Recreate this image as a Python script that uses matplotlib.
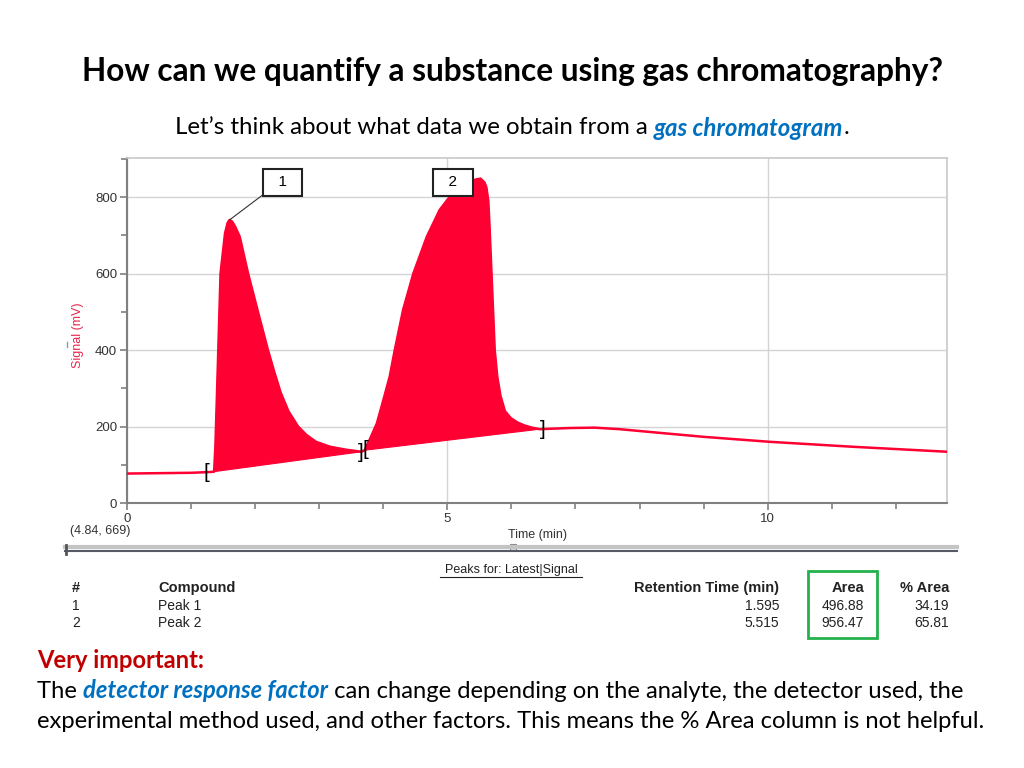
import matplotlib
matplotlib.use("Agg")
import matplotlib.pyplot as plt
from matplotlib.lines import Line2D
from matplotlib.patches import Rectangle
from matplotlib.ticker import MultipleLocator

# chromatogram trace (min, mV)
time_min = [0, 0.5, 1.0, 1.30, 1.36, 1.38, 1.40, 1.425, 1.46, 1.53, 1.57, 1.60, 1.64, 1.69,
            1.76, 1.89, 2.05, 2.20, 2.30, 2.40, 2.52, 2.67, 2.80, 2.95, 3.17, 3.43, 3.66,
            3.71, 3.80, 3.90, 4.00, 4.10, 4.18, 4.31, 4.47, 4.68, 4.88, 5.04, 5.20,
            5.35, 5.45, 5.52, 5.58, 5.61, 5.64, 5.66, 5.69, 5.74, 5.78, 5.83, 5.90,
            5.99, 6.10, 6.20, 6.32, 6.44, 6.91, 7.30, 7.69, 8.21, 9.0, 10.03, 11.33, 12.8]
signal_mv = [77, 78, 79, 81, 82, 150, 260, 400, 600, 705, 732, 740, 736, 722,
             696, 600, 496, 400, 342, 288, 240, 200, 178, 160, 147, 139, 134,
             138, 170, 208, 268, 330, 400, 505, 600, 696, 766, 801, 825,
             840, 846, 848, 838, 825, 790, 720, 600, 400, 330, 280, 240,
             222, 210, 203, 197, 193, 196, 197, 193, 185, 173, 160, 147, 134]

peak_start = [1.36, 3.71]
peak_end = [3.66, 6.44]
peak_apex = [(1.60, 740), (5.52, 848)]
label_pos = [(2.43, 838), (5.09, 838)]
peak_names = ["1", "2"]

bracket_open_t = [1.24, 3.72]
bracket_open_y = [81, 139]
bracket_close_t = [3.65, 6.49]
bracket_close_y = [133, 193]

table_header = ["#", "Compound", "Retention Time (min)", "Area", "% Area"]
table_rows = [["1", "Peak 1", "1.595", "496.88", "34.19"],
              ["2", "Peak 2", "5.515", "956.47", "65.81"]]

red = "#ff0033"
blue = "#0070c0"
W, H = 1024, 768


def fx(px):
    return px / W


def fy(py):
    return 1 - py / H


fig = plt.figure(figsize=(10.24, 7.68), dpi=100)
ax = fig.add_axes([fx(127), fy(503), fx(947) - fx(127), fy(158) - fy(503)])

ax.plot(time_min, signal_mv, color=red, lw=1.8, zorder=3)
for s, e in zip(peak_start, peak_end):
    seg_t = [t for t in time_min if s <= t <= e]
    seg_s = [v for t, v in zip(time_min, signal_mv) if s <= t <= e]
    ax.fill(seg_t, seg_s, color=red, lw=0.8, ec=red, zorder=3)

for t, y in zip(bracket_open_t, bracket_open_y):
    ax.text(t, y, "[", ha="center", va="center", fontsize=15, family="Liberation Sans", zorder=4)
for t, y in zip(bracket_close_t, bracket_close_y):
    ax.text(t, y, "]", ha="center", va="center", fontsize=15, family="Liberation Sans", zorder=4)

# peak labels
ax.annotate("  " + peak_names[0] + "  ", xy=peak_apex[0], xytext=label_pos[0],
            ha="center", va="center", fontsize=11, family="Liberation Sans",
            bbox=dict(boxstyle="square,pad=0.45", fc="white", ec="#222222", lw=1.5),
            arrowprops=dict(arrowstyle="-", color="#333333", lw=0.8, relpos=(0, 0),
                            shrinkA=0, shrinkB=0), zorder=5)
ax.text(label_pos[1][0], label_pos[1][1], "  " + peak_names[1] + "  ", ha="center",
        va="center", fontsize=11, family="Liberation Sans", zorder=5,
        bbox=dict(boxstyle="square,pad=0.45", fc="white", ec="#222222", lw=1.5))

ax.set_xlim(0, 12.8)
ax.set_ylim(0, 902)
ax.xaxis.set_major_locator(MultipleLocator(5))
ax.xaxis.set_minor_locator(MultipleLocator(1))
ax.yaxis.set_major_locator(MultipleLocator(200))
ax.yaxis.set_minor_locator(MultipleLocator(100))
ax.grid(True, which="major", color="#d4d4d4", lw=1)
ax.set_axisbelow(True)
ax.tick_params(which="both", direction="out", color="#808080", labelsize=9.5,
               labelcolor="#333333", width=1.2, pad=2)
ax.tick_params(which="major", length=5)
ax.tick_params(which="minor", length=4)
for lab in ax.get_xticklabels() + ax.get_yticklabels():
    lab.set_family("Liberation Sans")
for side in ["left", "bottom"]:
    ax.spines[side].set_color("#808080")
    ax.spines[side].set_linewidth(1.5)
for side in ["top", "right"]:
    ax.spines[side].set_color("#c8c8c8")
    ax.spines[side].set_linewidth(1.2)

fig.text(fx(78), fy(335), "Signal (mV)", rotation=90, ha="center", va="center",
         color="#e8264f", fontsize=9, family="Liberation Sans")
fig.add_artist(Line2D([fx(67), fx(67)], [fy(342), fy(347)], color="#999999", lw=1))
fig.text(fx(70), fy(531), "(4.84, 669)", ha="left", va="center", fontsize=9,
         color="#333333", family="Liberation Sans")
fig.text(fx(537), fy(535), "Time (min)", ha="center", va="center", fontsize=9,
         color="#333333", family="Liberation Sans")

# slider strip under the plot
fig.add_artist(Line2D([fx(65), fx(957)], [fy(547), fy(547)], color="#c4c4c4", lw=3))
fig.add_artist(Line2D([fx(65), fx(957)], [fy(551), fy(551)], color="#555a66", lw=1.5))
fig.add_artist(Rectangle((fx(510), fy(550)), 6 / W, 6 / H, fc="#e0e0e0", ec="#888888", lw=0.8))
fig.add_artist(Line2D([fx(66), fx(66)], [fy(545), fy(554)], color="#555555", lw=2))

# peak table
fig.text(fx(511), fy(570), "Peaks for: Latest|Signal", ha="center", va="center",
         fontsize=9, color="#222222", family="Liberation Sans")
fig.add_artist(Line2D([fx(440), fx(582)], [fy(577), fy(577)], color="#222222", lw=0.8))
col_x = [72, 158, 779, 864, 949]
col_ha = ["left", "left", "right", "right", "right"]
for x, ha, txt in zip(col_x, col_ha, table_header):
    fig.text(fx(x), fy(588), txt, ha=ha, va="center", fontsize=10.5, weight="bold",
             color="#222222", family="Liberation Sans")
for r, row in enumerate(table_rows):
    for x, ha, txt in zip(col_x, col_ha, row):
        fig.text(fx(x), fy(606 + 17 * r), txt, ha=ha, va="center", fontsize=10,
                 color="#222222", family="Liberation Sans")
fig.add_artist(Rectangle((fx(808), fy(638)), 69 / W, 67 / H, fill=False,
                         ec="#22b14c", lw=2))

# slide text
font = "Lato"
fig.text(0.5, fy(72), "How can we quantify a substance using gas chromatography?",
         ha="center", va="center", fontsize=22.8, weight="bold", family=font)

renderer = fig.canvas.get_renderer()


def rich_line(x_px, y_px, pieces, size):
    x = fx(x_px)
    for txt, kw in pieces:
        t = fig.text(x, fy(y_px), txt, ha="left", va="center", fontsize=size,
                     family=font, **kw)
        bb = t.get_window_extent(renderer=renderer)
        x = bb.x1 / W


rich_line(175, 128, [("Let\u2019s think about what data we obtain from a ", {}),
                     ("gas chromatogram", dict(weight="bold", style="italic", color=blue)),
                     (".", {})], 17.3)
rich_line(37, 661, [("Very important:", dict(weight="bold", color="#c00000"))], 17.1)
rich_line(37, 691, [("The ", {}),
                    ("detector response factor", dict(weight="bold", style="italic", color=blue)),
                    (" can change depending on the analyte, the detector used, the", {})], 17.1)
rich_line(37, 721, [("experimental method used, and other factors. This means the % Area column is not helpful.", {})], 17.1)

fig.savefig("out.png", dpi=100)
